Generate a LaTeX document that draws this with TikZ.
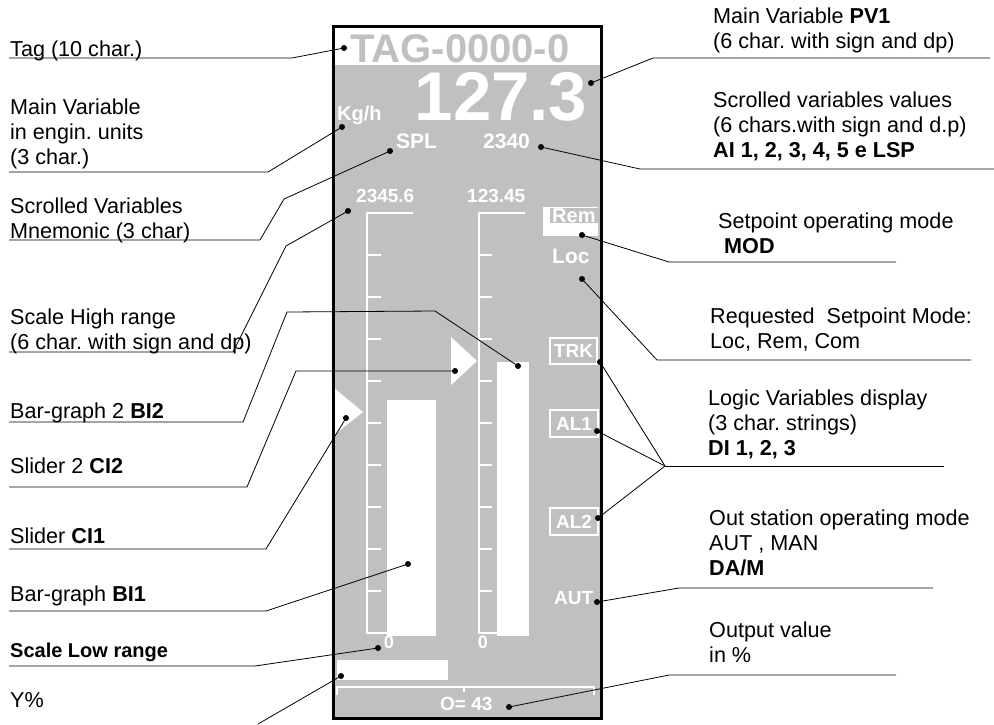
\documentclass[tikz,border=0pt]{standalone}
\usepackage{fontspec}
\setmainfont{Liberation Sans}
\definecolor{panelgray}{RGB}{192,192,192}
\frenchspacing

\begin{document}
\begin{tikzpicture}[x=1pt,y=-1pt,
    every node/.style={inner sep=0pt},
    lbl/.style={anchor=north west, align=left, font=\fontsize{21.6}{25}\selectfont},
    pnl/.style={text=white, anchor=base west, font=\bfseries\fontsize{20}{24}\selectfont},
    wline/.style={white, line width=2.6pt},
    wbox/.style={draw=white, line width=1.6pt},
    leader/.style={black, line width=0.8pt},
    blob/.style={circle, fill=black, minimum size=6pt}]

\useasboundingbox (0,0) rectangle (994,724);

% ==== display panel ====
\fill[panelgray] (333,26) rectangle (601,718);
\fill[white] (333,26) rectangle (601,65);

\node[anchor=base west, text=panelgray, font=\bfseries\fontsize{40}{44}\selectfont] (tagtxt) at (350,62) {TAG-0000-0};
\node[text=white, anchor=base, font=\bfseries\fontsize{69}{80}\selectfont] (pvtxt) at (501,120.5) {127.3};
\node[pnl, font=\bfseries\fontsize{20}{24}\selectfont] (unit) at (337,120) {Kg/h};
\node[pnl, font=\bfseries\fontsize{21}{24}\selectfont] (spl) at (396,148) {SPL};
\node[pnl, font=\bfseries\fontsize{21}{24}\selectfont] (scrval) at (483,148) {2340};
\node[pnl, font=\bfseries\fontsize{19}{22}\selectfont] (hi1) at (356,202) {2345.6};
\node[pnl, font=\bfseries\fontsize{19}{22}\selectfont] (hi2) at (467,202) {123.45};

% scales (10 divisions)
\draw[wline] (413,213) -- (367,213) -- (367,633) -- (388,633);
\draw[wline] (525,213) -- (479,213) -- (479,633) -- (498,633);
\foreach \k in {1,...,9}{
  \draw[wline] (367,{213+42*\k}) -- (381,{213+42*\k});
  \draw[wline] (479,{213+42*\k}) -- (492,{213+42*\k});
}
\node[pnl, anchor=base, font=\bfseries\fontsize{18}{20}\selectfont] (lo1) at (389,648) {0};
\node[pnl, anchor=base, font=\bfseries\fontsize{18}{20}\selectfont] (lo2) at (483,648) {0};

% bars and sliders
\fill[white] (387,400) rectangle (436,636);
\fill[white] (497,362) rectangle (529,636);
\fill[white] (451,337) -- (451,385) -- (477,361) -- cycle;
\fill[white] (334,388) -- (334,435) -- (363,412) -- cycle;

% right column of states
\fill[white] (543,207) rectangle (598,236);
\node[pnl, fill=panelgray, inner xsep=2pt, inner ysep=0.5pt] (rem) at (550,222) {Rem};
\node[pnl, font=\bfseries\fontsize{21}{24}\selectfont] (loc) at (552,263) {Loc};
\draw[wbox] (550,338) rectangle (597,364);
\node[pnl, anchor=center, font=\bfseries\fontsize{19}{22}\selectfont] (trk) at (573.5,351) {TRK};
\draw[wbox] (550,410) rectangle (598,437);
\node[pnl, anchor=center, font=\bfseries\fontsize{19}{22}\selectfont] (al1) at (574,423.5) {AL1};
\draw[wbox] (550,508) rectangle (598,535);
\node[pnl, anchor=center, font=\bfseries\fontsize{19}{22}\selectfont] (al2) at (574,521.5) {AL2};
\node[pnl, font=\bfseries\fontsize{19}{22}\selectfont] (aut) at (554,604) {AUT};

% output bar
\fill[white] (337,660) rectangle (448,680);
\draw[white, line width=2pt] (337,695) -- (337,687) -- (594,687) -- (594,695);
\draw[white, line width=2pt] (464,687) -- (464,692);
\node[pnl, font=\bfseries\fontsize{19}{22}\selectfont] (outval) at (440,710) {O= 43};

\draw[line width=3pt] (333,26) rectangle (601,718);

% ==== labels, left ====
\node[lbl] (lTag) at (10,41) {Tag (10 char.)};
\node[lbl] (lUnit) at (10,99) {Main Variable\\in engin. units\\(3 char.)};
\node[lbl] (lMnem) at (10,198) {Scrolled Variables\\Mnemonic (3 char)};
\node[lbl] (lHigh) at (10,309) {Scale High range\\(6 char. with sign and dp)};
\node[lbl] (lBar2) at (10,403) {Bar-graph 2 \textbf{BI2}};
\node[lbl] (lSl2) at (10,458) {Slider 2 \textbf{CI2}};
\node[lbl] (lSl1) at (10,528) {Slider \textbf{CI1}};
\node[lbl] (lBar1) at (10,586) {Bar-graph \textbf{BI1}};
\node[lbl, font=\bfseries\fontsize{20}{25}\selectfont] (lLow) at (10,643) {Scale Low range};
\node[lbl] (lY) at (10,692) {Y\%};

% ==== labels, right ====
\node[lbl] (rPV) at (713,8) {Main Variable \textbf{PV1}\\(6 char. with sign and dp)};
\node[lbl] (rScr) at (713,92) {Scrolled variables values\\(6 chars.with sign and d.p)\\\textbf{AI 1, 2, 3, 4, 5 e LSP}};
\node[lbl] (rMod) at (718,213) {Setpoint operating mode\\~\textbf{MOD}};
\node[lbl] (rReq) at (710,308) {Requested~ Setpoint Mode:\\Loc, Rem, Com};
\node[lbl] (rLog) at (708,390) {Logic Variables display\\(3 char. strings)\\\textbf{DI 1, 2, 3}};
\node[lbl] (rOut) at (709,510) {Out station operating mode\\AUT , MAN\\\textbf{DA/M}};
\node[lbl] (rVal) at (709,622) {Output value\\in \%};

% ==== pointed spots ====
\node[blob] (dTag) at (344,48) {};
\node[blob] (dPV) at (591,83) {};
\node[blob] (dUnit) at (342,127) {};
\node[blob] (dSpl) at (390,151) {};
\node[blob] (dScr) at (541,147) {};
\node[blob] (dHigh) at (348,211) {};
\node[blob] (dRem) at (582,235) {};
\node[blob] (dLoc) at (582,279) {};
\node[blob] (dBar2) at (518,366) {};
\node[blob] (dSl2) at (455,371) {};
\node[blob] (dTrk) at (600,362) {};
\node[blob] (dSl1) at (346,418) {};
\node[blob] (dAl1) at (597,431) {};
\node[blob] (dAl2) at (598,518) {};
\node[blob] (dBar1) at (408,564) {};
\node[blob] (dAut) at (597,602) {};
\node[blob] (dLow) at (378,648) {};
\node[blob] (dY) at (341,676) {};
\node[blob] (dOut) at (509,707) {};

% underline ends
\coordinate (uTag) at (292,58);
\coordinate (uUnit) at (268,172);
\coordinate (uMnem) at (260,240);
\coordinate (uHigh) at (233,352);
\coordinate (uBar2) at (243,422);
\coordinate (uSl2) at (247,487);
\coordinate (uSl1) at (266,549);
\coordinate (uBar1) at (266,611);
\coordinate (uLow) at (255,666);
\coordinate (uY) at (258,724);
\coordinate (uPV) at (653,58);
\coordinate (uScr) at (640,169);
\coordinate (uMod) at (669,262);
\coordinate (uReq) at (657,360);
\coordinate (uLog) at (665,466);
\coordinate (uOut) at (679,588);
\coordinate (uVal) at (669,675);

% ==== leaders ====
\draw[leader] (9,58) -- (uTag) -- (dTag.center);
\draw[leader] (9,172) -- (uUnit) -- (dUnit.center);
\draw[leader] (9,240) -- (uMnem) -- (284,199) -- (dSpl.center);
\draw[leader] (9,352) -- (uHigh) -- (286,246) -- (dHigh.center);
\draw[leader] (9,422) -- (uBar2) -- (287,312) -- (435,311) -- (dBar2.center);
\draw[leader] (9,487) -- (uSl2) -- (296,371) -- (dSl2.center);
\draw[leader] (9,549) -- (uSl1) -- (dSl1.center);
\draw[leader] (9,611) -- (uBar1) -- (dBar1.center);
\draw[leader] (9,666) -- (uLow) -- (dLow.center);
\draw[leader] (uY) -- (dY.center);

\draw[leader] (990,58) -- (uPV) -- (dPV.center);
\draw[leader] (994,169) -- (uScr) -- (dScr.center);
\draw[leader] (896,262) -- (uMod) -- (dRem.center);
\draw[leader] (971,360) -- (uReq) -- (dLoc.center);
\draw[leader] (944,466) -- (uLog);
\draw[leader] (dTrk.center) -- (uLog) -- (dAl2.center);
\draw[leader] (uLog) -- (dAl1.center);
\draw[leader] (933,588) -- (uOut) -- (dAut.center);
\draw[leader] (896,675) -- (uVal) -- (dOut.center);

\end{tikzpicture}
\end{document}
